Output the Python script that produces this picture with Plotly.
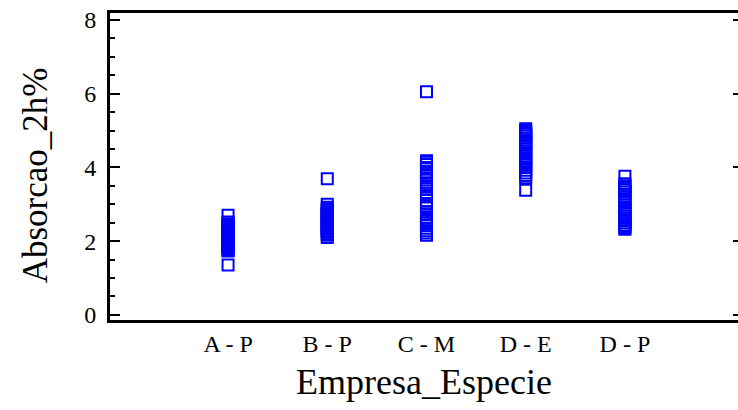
import plotly.graph_objects as go

categories = ["A - P", "B - P", "C - M", "D - E", "D - P"]

vals_AP = [2.70, 2.52, 2.47, 2.44, 2.40, 2.36, 2.33, 2.30, 2.27, 2.24, 2.21, 2.18,
           2.15, 2.12, 2.09, 2.06, 2.03, 2.00, 1.97, 1.94, 1.91, 1.88, 1.85, 1.82,
           1.79, 1.76, 1.73, 1.35]
vals_BP = [3.69, 3.00, 2.92, 2.88, 2.84, 2.80, 2.76, 2.72, 2.68, 2.64, 2.60, 2.56,
           2.52, 2.48, 2.44, 2.40, 2.36, 2.32, 2.28, 2.24, 2.20, 2.16, 2.10]
vals_CM = [6.05, 4.18, 4.14, 4.08, 4.00, 3.96, 3.88, 3.84, 3.78, 3.72, 3.66, 3.55,
           3.48, 3.42, 3.30, 3.22, 3.10, 3.02, 2.96, 2.90, 2.80, 2.74, 2.62, 2.56,
           2.50, 2.42, 2.35, 2.28, 2.22, 2.16]
vals_DE = [5.05, 5.00, 4.95, 4.90, 4.85, 4.80, 4.74, 4.68, 4.62, 4.56, 4.50, 4.44,
           4.38, 4.30, 4.24, 4.18, 4.12, 4.06, 4.00, 3.92, 3.85, 3.78, 3.72, 3.38]
vals_DP = [3.76, 3.56, 3.50, 3.45, 3.40, 3.34, 3.28, 3.20, 3.12, 3.05, 2.98, 2.92,
           2.86, 2.80, 2.74, 2.68, 2.62, 2.56, 2.50, 2.44, 2.40, 2.36, 2.32]

y_tickvals = [0, 2, 4, 6, 8]

groups = [vals_AP, vals_BP, vals_CM, vals_DE, vals_DP]
xs, ys = [], []
for cat, vals in zip(categories, groups):
    xs += [cat] * len(vals)
    ys += vals

font_family = "Liberation Serif, Times New Roman, serif"
yrange = [-0.14, 8.19]

fig = go.Figure()
fig.add_trace(go.Scatter(
    x=xs, y=ys, mode="markers",
    marker=dict(symbol="square-open", size=11, color="#0000FF",
                line=dict(width=2, color="#0000FF")),
    showlegend=False, hoverinfo="skip",
))
# invisible trace for right-side ticks
fig.add_trace(go.Scatter(x=[categories[0]], y=[None], yaxis="y2",
                         showlegend=False, hoverinfo="skip"))

fig.update_layout(
    width=738, height=410,
    margin=dict(l=110, r=0, t=13, b=90),
    paper_bgcolor="white", plot_bgcolor="white",
    font=dict(family=font_family, color="black"),
    xaxis=dict(
        type="category", categoryorder="array", categoryarray=categories,
        range=[-1.19, 5.14], showgrid=False, zeroline=False,
        showline=True, linewidth=3, linecolor="black", mirror=True,
        ticks="", tickfont=dict(size=24, family=font_family),
        automargin=False,
        title=dict(text="Empresa_Especie", font=dict(size=36, family=font_family),
                   standoff=14),
    ),
    yaxis=dict(
        range=yrange, tickvals=y_tickvals, showgrid=False, zeroline=False,
        showline=True, linewidth=3, linecolor="black", mirror=False,
        ticks="inside", ticklen=10, tickwidth=2, tickcolor="black",
        minor=dict(dtick=0.5, ticks="inside", ticklen=5, tickwidth=2, tickcolor="black"),
        tickfont=dict(size=24, family=font_family),
        ticklabelstandoff=6,
        automargin=False,
    ),
    yaxis2=dict(
        overlaying="y", side="right", range=yrange, tickvals=y_tickvals,
        showgrid=False, zeroline=False, showline=False, showticklabels=False,
        ticks="inside", ticklen=5, tickwidth=2, tickcolor="black", automargin=False,
    ),
    annotations=[dict(
        text="Absorcao_2h%", textangle=-90, showarrow=False,
        xref="paper", yref="paper", x=-0.119, y=0.472,
        xanchor="center", yanchor="middle",
        font=dict(size=35, family=font_family, color="black"),
    )],
)

fig.write_html("out.html", post_script="document.body.style.margin='0';",
               config={"displayModeBar": False})
